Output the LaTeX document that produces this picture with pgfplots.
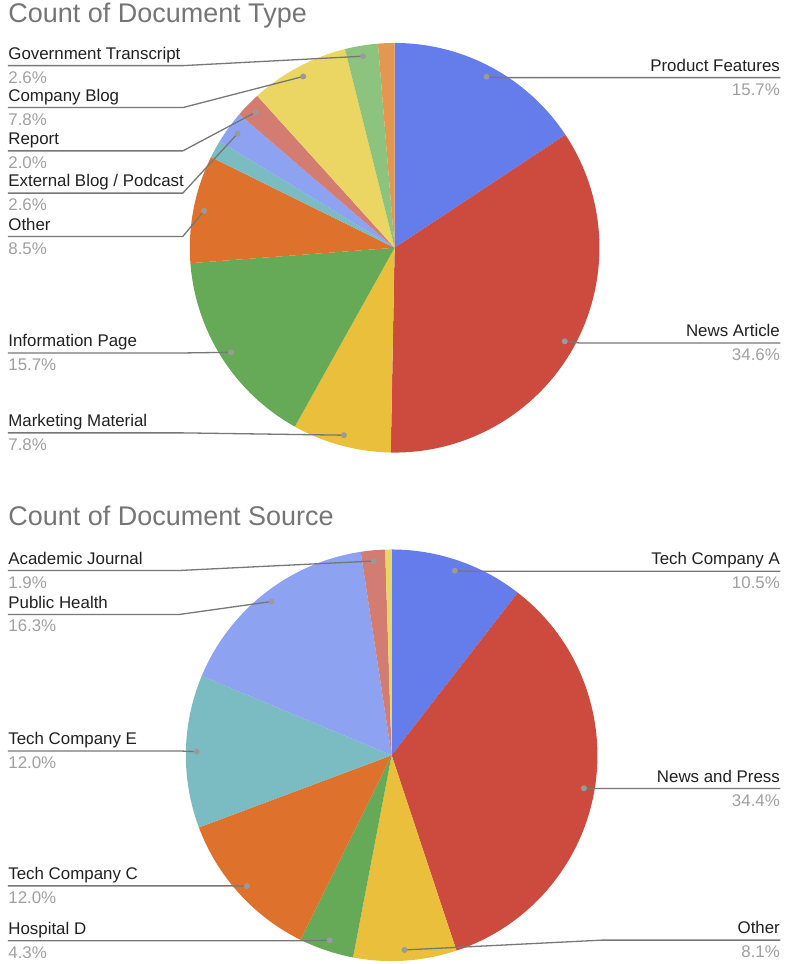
\documentclass[border=0pt]{standalone}
\usepackage{pgfplots}
\pgfplotsset{compat=1.18}
\usepackage{fontspec}
\setmainfont{Liberation Sans}

\definecolor{cBlue}{HTML}{657DEB}
\definecolor{cRed}{HTML}{CC4B3E}
\definecolor{cYellow}{HTML}{E9BF3B}
\definecolor{cGreen}{HTML}{66AA57}
\definecolor{cOrange}{HTML}{DE722D}
\definecolor{cTeal}{HTML}{7BBCC3}
\definecolor{cLBlue}{HTML}{8EA2F2}
\definecolor{cPink}{HTML}{D27C72}
\definecolor{cLYellow}{HTML}{EBD563}
\definecolor{cLGreen}{HTML}{8CC47F}
\definecolor{cLOrange}{HTML}{E3974F}
\definecolor{titlegray}{HTML}{757575}
\definecolor{pctgray}{HTML}{A0A0A0}
\definecolor{linegray}{HTML}{777777}
\definecolor{dotgray}{HTML}{9A9A9A}

\newcommand{\lbl}{\fontsize{8.45}{10}\selectfont}
\newcommand{\ttl}{\fontsize{13.5}{16}\selectfont}

% #1 centre x, #2 centre y (pixels, y down), #3 radius (pixels)
% #4 value/colour/name/side/line y/bend x
\newcommand{\pie}[4]{%
  \pgfmathsetmacro\rr{0.5*#3}%
  \pgfmathsetmacro\rd{0.5*0.948*#3}%
  \gdef\cum{0}%
  \foreach \v/\c/\name/\side/\ly/\bx in {#4}{%
    \pgfmathsetmacro\sa{90-3.6*\cum}%
    \pgfmathsetmacro\ea{90-3.6*(\cum+\v)}%
    \fill[\c] (axis cs:#1,#2) -- ++(\sa:\rr pt) arc[start angle=\sa, end angle=\ea, radius=\rr pt] -- cycle;
    \pgfmathsetmacro\newcum{\cum+\v}%
    \xdef\cum{\newcum}%
  }%
  \gdef\cum{0}%
  \foreach \v/\c/\name/\side/\ly/\bx in {#4}{%
    \pgfmathsetmacro\ma{90-3.6*(\cum+\v/2)}%
    \if N\side\else
      \if L\side
        \draw[linegray, line width=0.65pt] (axis cs:8,\ly) -- (axis cs:\bx,\ly) -- ([shift={(\ma:\rd pt)}]axis cs:#1,#2);
        \node[anchor=base west, inner sep=0pt, font=\lbl, text=black!87, yshift=3.2pt] at (axis cs:8,\ly) {\name};
        \node[anchor=base west, inner sep=0pt, font=\lbl, text=pctgray, yshift=-8.8pt] at (axis cs:8,\ly) {\v\%};
      \else
        \draw[linegray, line width=0.65pt] (axis cs:781,\ly) -- (axis cs:\bx,\ly) -- ([shift={(\ma:\rd pt)}]axis cs:#1,#2);
        \node[anchor=base east, inner sep=0pt, font=\lbl, text=black!87, yshift=3.2pt] at (axis cs:781,\ly) {\name};
        \node[anchor=base east, inner sep=0pt, font=\lbl, text=pctgray, yshift=-8.8pt] at (axis cs:781,\ly) {\v\%};
      \fi
      \fill[dotgray] ([shift={(\ma:\rd pt)}]axis cs:#1,#2) circle[radius=1.5pt];
    \fi
    \pgfmathsetmacro\newcum{\cum+\v}%
    \xdef\cum{\newcum}%
  }%
}

\begin{document}
\begin{tikzpicture}
\begin{axis}[
    x=0.5pt, y=0.5pt, y dir=reverse,
    xmin=0, xmax=788, ymin=0, ymax=964,
    hide axis, clip=false
]
\pgfplotsextra{
  \path (axis cs:0,0) rectangle (axis cs:788,964);
  \node[anchor=base west, inner sep=0pt, font=\ttl, text=titlegray] at (axis cs:8,22.7) {Count of Document Type};
  \pie{395}{248}{205}{
    15.7/cBlue/Product Features/R/77.7/500,
    34.6/cRed/News Article/R/343.3/580,
    7.8/cYellow/Marketing Material/L/433.3/183,
    15.7/cGreen/Information Page/L/353.3/183,
    8.5/cOrange/Other/L/236.7/183,
    1.4/cTeal/-/N/0/0,
    2.6/cLBlue/{External Blog / Podcast}/L/193.3/183,
    2.0/cPink/Report/L/151/183,
    7.8/cLYellow/Company Blog/L/107.7/183,
    2.6/cLGreen/Government Transcript/L/65.7/183,
    1.3/cLOrange/-/N/0/0}
  \node[anchor=base west, inner sep=0pt, font=\ttl, text=titlegray] at (axis cs:8,526) {Count of Document Source};
  \pie{392}{756}{206}{
    10.5/cBlue/Tech Company A/R/571.7/470,
    34.4/cRed/News and Press/R/789.3/600,
    8.1/cYellow/Other/R/941/603,
    4.3/cGreen/Hospital D/L/941.7/300,
    12.0/cOrange/Tech Company C/L/886.7/230,
    12.0/cTeal/Tech Company E/L/751.7/180,
    16.3/cLBlue/Public Health/L/615/180,
    1.9/cPink/Academic Journal/L/571/180,
    0.5/cLYellow/-/N/0/0}
}
\end{axis}
\end{tikzpicture}
\end{document}
